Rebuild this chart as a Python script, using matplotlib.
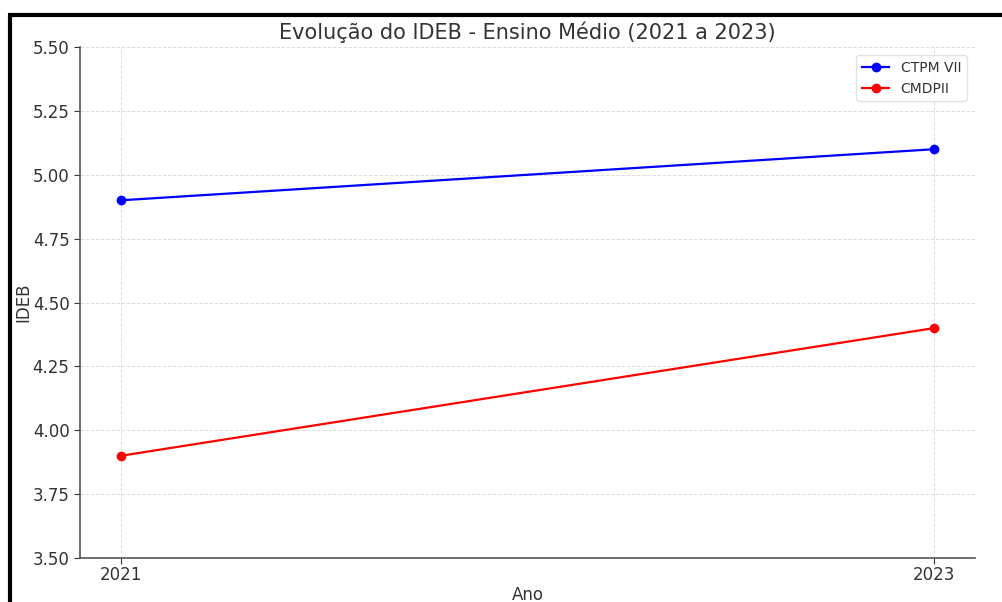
import matplotlib.pyplot as plt
from matplotlib.lines import Line2D

# Dados do IDEB - Ensino Médio
anos = [2021, 2023]
ctpm_vii = [4.9, 5.1]
cmdpii = [3.9, 4.4]
y_ticks = [3.50, 3.75, 4.00, 4.25, 4.50, 4.75, 5.00, 5.25, 5.50]

txt = '#333333'
fig = plt.figure(figsize=(10.03, 6.02), dpi=100)
ax = fig.add_axes([0.0798, 0.0731, 0.8922, 0.8488])

ax.plot(anos, ctpm_vii, color='blue', marker='o', markersize=6, linewidth=1.6, label='CTPM VII')
ax.plot(anos, cmdpii, color='red', marker='o', markersize=6, linewidth=1.6, label='CMDPII')

ax.set_xlim(2020.9, 2023.1)
ax.set_ylim(3.5, 5.5)
ax.set_xticks(anos)
ax.set_yticks(y_ticks)
ax.set_yticklabels([f'{v:.2f}' for v in y_ticks])
ax.tick_params(colors=txt, labelsize=12, length=4)
ax.tick_params(axis='x', pad=2)
for lbl in ax.get_xticklabels() + ax.get_yticklabels():
    lbl.set_color(txt)

ax.grid(True, linestyle='--', color='#dddddd', linewidth=0.7)
ax.spines['top'].set_visible(False)
ax.spines['right'].set_visible(False)
ax.spines['left'].set_color('#555555')
ax.spines['bottom'].set_color('#555555')
ax.spines['left'].set_linewidth(1.2)
ax.spines['bottom'].set_linewidth(1.2)

ax.set_title('Evolução do IDEB - Ensino Médio (2021 a 2023)', fontsize=15, color=txt, pad=6)
ax.set_xlabel('Ano', fontsize=12, color=txt, labelpad=1)
ax.set_ylabel('IDEB', fontsize=12, color=txt, labelpad=0)

leg = ax.legend(loc='upper right', fontsize=10, frameon=True, borderaxespad=0.6)
leg.get_frame().set_edgecolor('#dddddd')
for t in leg.get_texts():
    t.set_color(txt)

# moldura preta da captura de tela
fig.add_artist(Line2D([10 / 1003, 10 / 1003], [0, 1 - 15 / 602], transform=fig.transFigure,
                      color='black', linewidth=3, solid_capstyle='butt'))
fig.add_artist(Line2D([8.5 / 1003, 1], [1 - 15 / 602, 1 - 15 / 602], transform=fig.transFigure,
                      color='black', linewidth=3, solid_capstyle='butt'))

fig.savefig('out.png', dpi=100)
